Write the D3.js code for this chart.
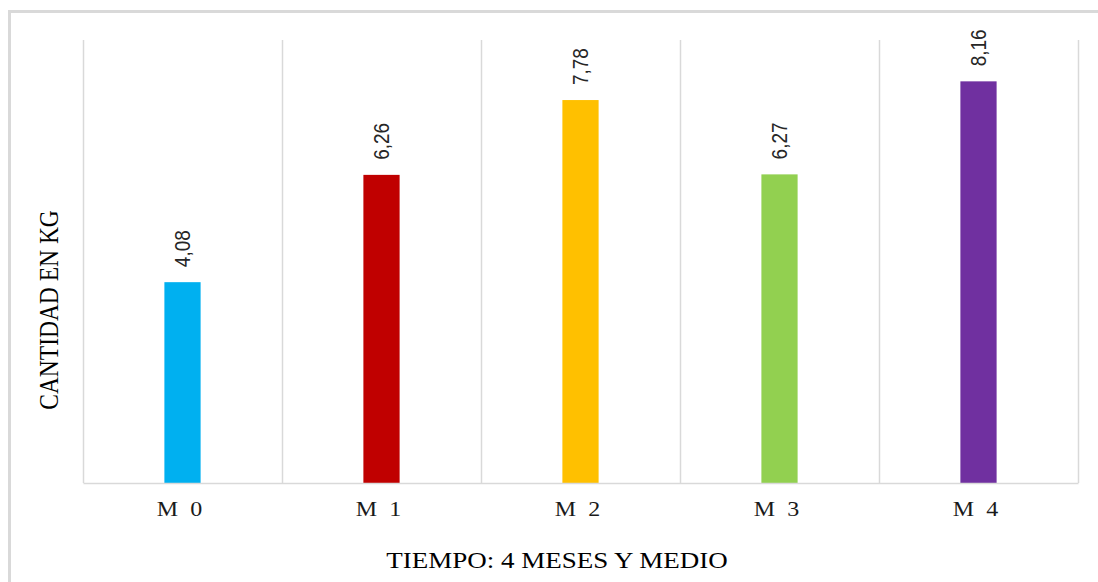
<!DOCTYPE html>
<html>
<head>
<meta charset="utf-8">
<script src="https://cdn.jsdelivr.net/npm/d3@7"></script>
<style>
  html, body { margin: 0; padding: 0; background: #fff; }
  svg { display: block; }
  text { white-space: pre; }
</style>
</head>
<body>
<svg id="chart" width="1098" height="582"></svg>
<script>
// Peso acumulado por mes (kg)
const categories = ["M0", "M1", "M2", "M3", "M4"];
const tickLabels = ["M  0", "M  1", "M  2", "M  3", "M  4"];
const values = [4.08, 6.26, 7.78, 6.27, 8.16];
const valueLabels = ["4,08", "6,26", "7,78", "6,27", "8,16"];
const barColors = ["#00b0f0", "#c00000", "#ffc000", "#92d050", "#7030a0"];
const yMax = 9;

const svg = d3.select("#chart");
const stretch = 1.2;

// Marco exterior del gráfico
svg.append("rect")
  .attr("x", 9.5).attr("y", 11.5)
  .attr("width", 1200).attr("height", 700)
  .attr("fill", "#fff")
  .attr("stroke", "#d9d9d9")
  .attr("stroke-width", 3);

const plot = { left: 83, right: 1078, top: 40, bottom: 483 };

const x = d3.scaleBand()
  .domain(categories)
  .range([plot.left, plot.right])
  .padding(0);

const y = d3.scaleLinear()
  .domain([0, yMax])
  .range([plot.bottom, plot.top]);

const barWidth = x.bandwidth() * 0.182;

// Líneas divisorias verticales entre categorías
const edges = categories.map(c => x(c)).concat([x.range()[1]]);
svg.append("g")
  .selectAll("line")
  .data(edges)
  .join("line")
  .attr("x1", d => Math.round(d) + 0.5)
  .attr("x2", d => Math.round(d) + 0.5)
  .attr("y1", y(yMax))
  .attr("y2", y(0))
  .attr("stroke", "#d9d9d9")
  .attr("stroke-width", 1.5);

// Barras
svg.append("g")
  .selectAll("rect")
  .data(values)
  .join("rect")
  .attr("x", (d, i) => x(categories[i]) + x.bandwidth() / 2 - barWidth / 2)
  .attr("y", d => y(d))
  .attr("width", barWidth)
  .attr("height", d => y(0) - y(d))
  .attr("fill", (d, i) => barColors[i]);

// Eje X
const xAxis = svg.append("g")
  .attr("transform", `translate(0,${y(0)})`)
  .call(d3.axisBottom(x).tickSize(0).tickFormat((d, i) => tickLabels[i]));
xAxis.select(".domain")
  .attr("stroke", "#d9d9d9")
  .attr("stroke-width", 1.5);
xAxis.selectAll("text")
  .attr("y", 0).attr("dy", 0)
  .attr("transform", `translate(-3,33) scale(${stretch},1)`)
  .attr("font-family", "'Liberation Serif', 'Times New Roman', serif")
  .attr("font-size", 20)
  .attr("fill", "#1a1a1a");

// Etiquetas de valor
svg.append("g")
  .selectAll("text")
  .data(values)
  .join("text")
  .attr("transform", (d, i) =>
    `translate(${x(categories[i]) + x.bandwidth() / 2},${y(d) - 15}) scale(${stretch},1) rotate(-90)`)
  .attr("dy", "0.35em")
  .attr("text-anchor", "start")
  .attr("font-family", "'Liberation Sans', Arial, sans-serif")
  .attr("font-size", 19)
  .attr("fill", "#262626")
  .text((d, i) => valueLabels[i]);

// Títulos de ejes
svg.append("text")
  .attr("transform", `translate(557,568) scale(${stretch},1)`)
  .attr("text-anchor", "middle")
  .attr("font-family", "'Liberation Serif', 'Times New Roman', serif")
  .attr("font-size", 22.5)
  .attr("fill", "#000")
  .text("TIEMPO: 4 MESES Y MEDIO");

svg.append("text")
  .attr("transform", `translate(49,310) scale(${stretch},1) rotate(-90)`)
  .attr("text-anchor", "middle")
  .attr("dy", "0.33em")
  .attr("font-family", "'Liberation Serif', 'Times New Roman', serif")
  .attr("font-size", 23.5)
  .attr("fill", "#000")
  .text("CANTIDAD EN KG");
</script>
</body>
</html>
